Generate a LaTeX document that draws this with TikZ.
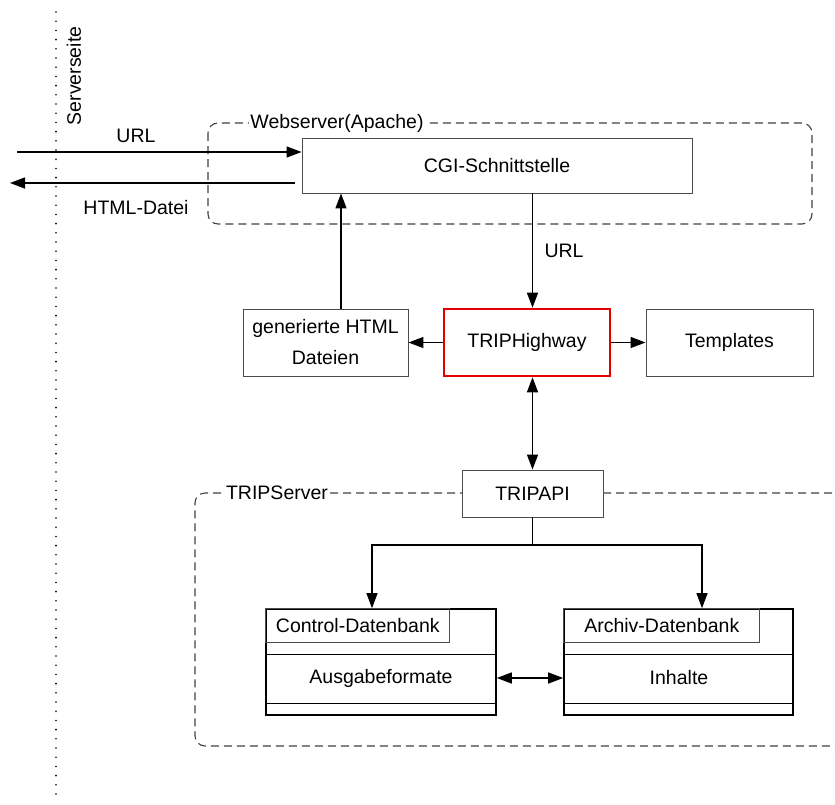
\documentclass[tikz,border=0pt]{standalone}
\usepackage{fontspec}
\setmainfont{Liberation Sans}
\usetikzlibrary{arrows.meta}
\tikzset{
  box/.style={draw=black!70, fill=white, line width=0.9, inner sep=0pt, align=center},
  dbbox/.style={draw=black, fill=white, line width=1.6, inner sep=0pt},
  arr/.style={line width=1.4, -{Triangle[length=15pt,width=11pt]}},
  darr/.style={line width=1.4, {Triangle[length=15pt,width=11pt]}-{Triangle[length=15pt,width=11pt]}},
  grp/.style={draw=black!75, line width=1.1, dash pattern=on 8pt off 5pt, rounded corners=10},
  grplabel/.style={fill=white, inner sep=1.5pt}
}
\begin{document}
\begin{tikzpicture}[x=1pt,y=-1pt,font=\fontsize{19.5}{24}\selectfont]
				\useasboundingbox (0,0) rectangle (835,804);
				% Serverseite
				\draw[line width=1.8, line cap=round, dash pattern=on 0pt off 9.2pt] (56,12) -- (56,800);
				\node[rotate=90] (side) at (74,76) {Serverseite};
				% Webserver
				\draw[grp] (208,123) rectangle (812,224);
				\node[grplabel] (web) at (337,123) {Webserver(Apache)};
				\node[box, minimum width=390, minimum height=55] (cgi) at (497,165.5) {CGI-Schnittstelle};
				\coordinate (urlin) at (17,152);
				\coordinate (htmlout) at (10,183);
				\draw[arr] (urlin) -- (urlin -| cgi.west);
				\draw[arr] ([xshift=-7]cgi.west |- htmlout) -- (htmlout);
				\node (urla) at (136,136) {URL};
				\node (htmla) at (136,208) {HTML-Datei};
				% middle row
				\node[box, draw=red!90!black, line width=2.6, minimum width=166, minimum height=67] (high) at (527,342.5) {TRIPHighway};
				\node[box, font=\fontsize{19.5}{31}\selectfont, minimum width=165, minimum height=67] (gen) at (325.5,342.5) {generierte HTML\\Dateien};
				\node[box, minimum width=167, minimum height=67] (tpl) at (729.5,342.5) {Templates};
				% TRIPServer
				\draw[grp] (845,493) -- (195,493) -- (195,746) -- (845,746);
				\node[grplabel] (srv) at (277,493) {TRIPServer};
				\node[box, minimum width=141, minimum height=47] (api) at (532.5,493.5) {TRIPAPI};
				\draw[arr] (cgi.south -| api) -- node[right=8pt] (urlb) {URL} (high.north -| api);
				\draw[arr] (high.west) -- (gen.east);
				\draw[arr] (high.east) -- (tpl.west);
				\draw[arr] ([xshift=15.5]gen.north) -- ([xshift=15.5]gen.north |- cgi.south);
				\draw[darr] (high.south -| api) -- (api.north);
				% databases
				\node[dbbox, minimum width=230, minimum height=106] (cdb) at (381,662) {};
				\node[dbbox, minimum width=229, minimum height=106] (adb) at (678.5,662) {};
				\foreach \db/\w/\name in {cdb/184/Control-Datenbank, adb/196/Archiv-Datenbank} {
					\node[draw=black!70, line width=1.2, anchor=north west, minimum width=\w, minimum height=34, inner sep=0pt] (\db head) at (\db.north west) {\name};
					\draw[line width=1.2] ([yshift=-46]\db.north west) -- ([yshift=-46]\db.north east);
					\draw[line width=1.2] ([yshift=12]\db.south west) -- ([yshift=12]\db.south east);
				}
				\node (cdbtxt) at (381,678) {Ausgabeformate};
				\node (adbtxt) at (679,678) {Inhalte};
				\coordinate (fork) at (532.5,545);
				\draw[line width=1.1] (api.south) -- (fork);
				\draw[arr, line width=1.1] (fork) -| ([xshift=-9]cdb.north);
				\draw[arr, line width=1.1] (fork) -| ([xshift=23.5]adb.north);
				\draw[darr] (cdb.east |- cdbtxt) -- (adb.west |- cdbtxt);
			\end{tikzpicture}
\end{document}
